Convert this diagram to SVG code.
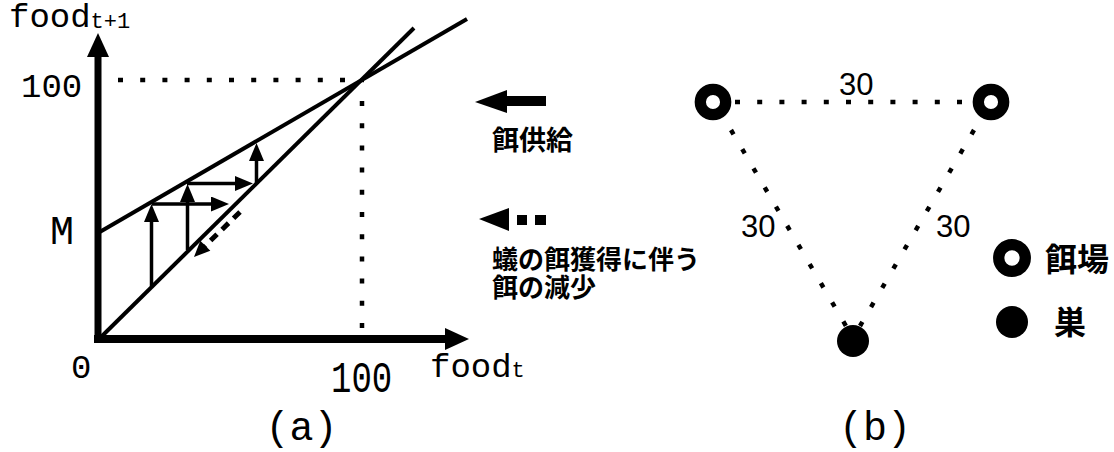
<svg xmlns="http://www.w3.org/2000/svg" width="1114" height="452" viewBox="0 0 1114 452">
<style>
.mono{font-family:"Liberation Mono","Courier New",monospace;fill:#000}
.sans{font-family:"Liberation Sans",Arial,sans-serif;fill:#000}
.jp{font-family:"Noto Sans CJK JP","Noto Sans",sans-serif;font-weight:bold;fill:#000}
.ln{stroke:#000;stroke-width:4;fill:none}
.arr{stroke:#000;stroke-width:3.5;fill:none;marker-end:url(#ah)}
.dot{stroke:#000;stroke-width:4.5;fill:none;stroke-dasharray:5 17.2}
.ring{fill:#fff;stroke:#000;stroke-width:11.3}
.nest{fill:#000}
</style>
<defs>
<marker id="ah" markerUnits="userSpaceOnUse" markerWidth="20" markerHeight="16" refX="8" refY="7.5" orient="auto">
<path d="M0,0 L18,7.5 L0,15 z" fill="#000"/>
</marker>
</defs>
<rect width="1114" height="452" fill="#fff"/>

<!-- (a) chart -->
<g id="chart-a">
  <g id="axes">
    <line x1="98" y1="343" x2="98" y2="54" stroke="#000" stroke-width="7"/>
    <polygon points="98,33 87,57 109,57" fill="#000"/>
    <line x1="94" y1="339" x2="447" y2="339" stroke="#000" stroke-width="8"/>
    <polygon points="469,339 445,328 445,350" fill="#000"/>
  </g>
  <g id="guides">
    <line class="dot" x1="118" y1="80" x2="364" y2="80"/>
    <line class="dot" x1="362" y1="101" x2="362" y2="328"/>
  </g>
  <g id="curves">
    <line class="ln" x1="98" y1="340" x2="414" y2="28"/>
    <line class="ln" x1="98" y1="233" x2="467" y2="19"/>
  </g>
  <g id="cobweb">
    <line class="arr" x1="151.5" y1="286" x2="151.5" y2="214"/>
    <line class="arr" x1="152" y1="204" x2="219" y2="204"/>
    <line class="arr" x1="187.5" y1="250" x2="187.5" y2="194"/>
    <line class="arr" x1="187" y1="183.5" x2="243" y2="183.5"/>
    <line class="arr" x1="256.5" y1="184" x2="256.5" y2="153"/>
    <line x1="240" y1="212" x2="204" y2="247" stroke="#000" stroke-width="5" stroke-dasharray="9 7"/>
    <polygon points="194,257 200.3,240.7 210.3,250.7" fill="#000"/>
  </g>
  <g id="labels-a">
    <text class="mono" x="9" y="27" font-size="34">food</text>
    <text class="mono" x="90.6" y="28" font-size="22">t+1</text>
    <text class="mono" x="21" y="97" font-size="34">100</text>
    <text class="mono" x="50" y="244" font-size="40">M</text>
    <text class="mono" x="71" y="378" font-size="34">0</text>
    <text class="mono" transform="translate(331,392) scale(1,1.3)" font-size="34">100</text>
    <text class="mono" x="430" y="377" font-size="34">food</text>
    <text class="mono" x="511.6" y="377" font-size="22">t</text>
    <text class="mono" x="301.5" y="440" font-size="40" text-anchor="middle">(a)</text>
  </g>
</g>

<!-- legend for (a) -->
<g id="legend-a">
  <g id="supply-key">
    <polygon points="475,102 507,90 507,113" fill="#000"/>
    <rect x="506" y="96" width="40" height="10" fill="#000"/>
    <text class="jp" x="492" y="150" font-size="27">餌供給</text>
  </g>
  <g id="consume-key">
    <polygon points="479,219 509,208 509,231" fill="#000"/>
    <rect x="517" y="215" width="10" height="10" fill="#000"/>
    <rect x="535" y="215" width="11" height="10" fill="#000"/>
    <text class="jp" font-size="26"><tspan x="492" y="269">蟻の餌獲得に伴う</tspan><tspan x="492" y="297">餌の減少</tspan></text>
  </g>
</g>

<!-- (b) graph -->
<g id="connectors">
  <line class="dot" x1="735" y1="102" x2="968" y2="102"/>
  <line class="dot" x1="731" y1="130" x2="846" y2="326"/>
  <line class="dot" x1="974" y1="130" x2="860" y2="326"/>
  <text class="sans" x="839" y="95" font-size="31">30</text>
  <text class="sans" x="741" y="237" font-size="31">30</text>
  <text class="sans" x="936" y="237" font-size="31">30</text>
</g>
<g id="food-left"><circle class="ring" cx="713" cy="102" r="12.7"/></g>
<g id="food-right"><circle class="ring" cx="991" cy="102" r="12.7"/></g>
<g id="nest"><circle class="nest" cx="853" cy="341" r="16"/></g>

<g id="legend-b">
  <g id="legend-food">
    <circle class="ring" cx="1012" cy="258" r="13.3"/>
    <text class="jp" x="1045" y="271" font-size="32">餌場</text>
  </g>
  <g id="legend-nest">
    <circle class="nest" cx="1012" cy="322" r="16"/>
    <text class="jp" x="1054" y="334" font-size="32">巣</text>
  </g>
</g>
<text class="mono" x="875" y="440" font-size="40" text-anchor="middle">(b)</text>
</svg>
